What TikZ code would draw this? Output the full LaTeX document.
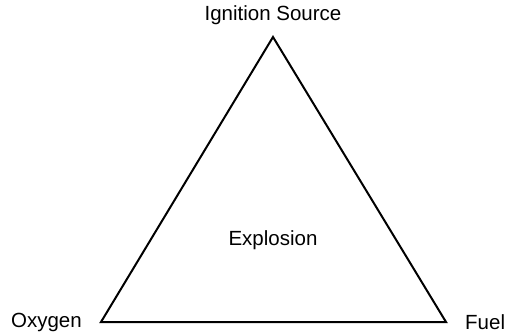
\documentclass[tikz,border=0pt]{standalone}
\usepackage{fontspec}
\setmainfont{Liberation Sans}
\usetikzlibrary{positioning}

\tikzset{
   corner label/.style={inner sep=0pt, font=\fontsize{20.5}{24}\selectfont},
   fire side/.style={line width=2pt, line join=miter}
}

\begin{document}
\begin{tikzpicture}[x=1pt, y=-1pt]
            \useasboundingbox (0,0) rectangle (505,335);
            % Corners of the triangle
            \coordinate (apex) at (273,37);
            \coordinate (left) at (101,322);
            \coordinate (right) at (446,322);
            % Triangle
            \draw[fire side] (apex) -- (left) -- (right) -- cycle;
            % Corner labels
            \node[corner label, above=12pt of apex] (ignition) {Ignition Source};
            \node[corner label, left=19pt of left] (oxygen) {Oxygen};
            \node[corner label, right=19pt of right] (fuel) {Fuel};
            % Centre label
            \node[corner label] (explosion) at (273,240) {Explosion};
         \end{tikzpicture}
\end{document}
